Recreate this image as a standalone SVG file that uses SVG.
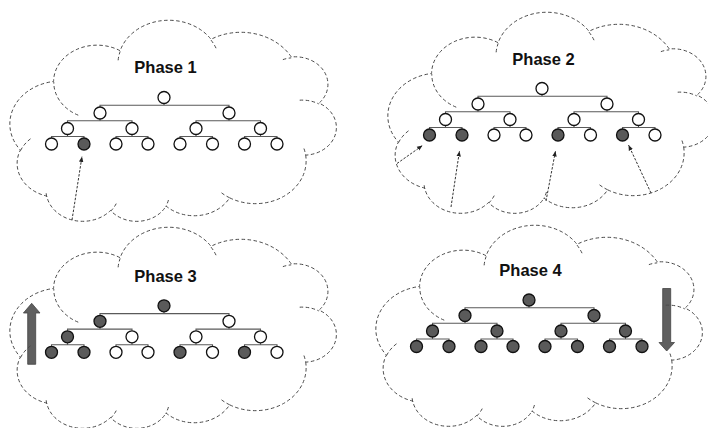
<svg xmlns="http://www.w3.org/2000/svg" xmlns:xlink="http://www.w3.org/1999/xlink" width="708" height="428" viewBox="0 0 708 428">
<style>
.cl{fill:none;stroke:#4a4a4a;stroke-width:1;stroke-dasharray:3.5 2.5}
.t{font-family:"Liberation Sans",Arial,sans-serif;font-weight:bold;font-size:16.5px;fill:#111;text-anchor:middle}
.w{fill:#fff;stroke:#111;stroke-width:1.3}
.f{fill:#5a5a5a;stroke:#111;stroke-width:1.3}
.br{fill:none;stroke:#5a5a5a;stroke-width:1.1}
.da{fill:none;stroke:#333;stroke-width:1;stroke-dasharray:2.5 1.5}
.ba{fill:#5f5f5f;stroke:#444;stroke-width:0.8}
</style>
<defs>
<marker id="ah" markerWidth="6" markerHeight="6" refX="5.5" refY="3" orient="auto" markerUnits="userSpaceOnUse"><path d="M0,0.8 L5.5,3 L0,5.2 Z" fill="#222"/></marker>
<g id="cloud">
<path d="M305.66,155.14A50.8,42.76 0 0 1 229.63,197.79A40.12,33.81 0 0 1 166.05,206.03A32.84,27.66 0 0 1 110.55,210.46A36.54,30.69 0 0 1 46.71,196.06A40.12,33.84 0 0 1 20.38,150.07A50.97,42.9 0 0 1 53.59,81.48A43.52,36.6 0 0 1 120.15,50.72A50.8,42.88 0 0 1 211,39.3A58.08,49.05 0 0 1 291.32,56.97A32.8,27.54 0 0 1 319.1,103.13A32.69,27.66 0 0 1 305.66,155.14Z"/>
<path d="M299.69,100.2A32.69,27.66 0 0 1 318.76,103.91M282.88,59.62A32.8,27.54 0 0 1 291.22,57.85M211.03,40.12A50.8,42.88 0 0 1 216.07,48.24M118.13,60.31A50.8,42.88 0 0 1 120.14,51.43M78.24,115.2A43.52,36.6 0 0 1 53.78,82M20.55,150.56A40.12,33.84 0 0 1 31.45,138.11M46.68,196.75A36.54,30.69 0 0 1 46.11,190.87M116.24,203.61A36.54,30.69 0 0 1 110.66,211.11M168.43,200.04A32.84,27.66 0 0 1 165.73,206.5M229.68,197.84A50.8,42.76 0 0 1 219.9,191.57M303.95,148.54A50.8,42.76 0 0 1 305.66,155.14"/>
</g>
<path id="bars" d="M164,103.5V105.3M100,107V105.3H229V107M100,119V120.8M67.5,122.5V120.8H132V122.5M229,119V120.8M196,122.5V120.8H260.5V122.5M67.5,134.5V136.5M51.5,138V136.5H84V138M132,134.5V136.5M116,138V136.5H148V138M196,134.5V136.5M180,138V136.5H212.5V138M260.5,134.5V136.5M244.5,138V136.5H277V138"/>
</defs>

<g id="arrows">
<polygon class="ba" points="31.7,303.3 40,313 35.7,313 35.7,364.3 27.7,364.3 27.7,313 23.4,313"/>
<polygon class="ba" points="662.7,288.5 670.7,288.5 670.7,342.5 674.5,342.5 666.7,351 659,342.5 662.7,342.5"/>
</g>

<g id="clouds">
<g id="cloud1"><use xlink:href="#cloud" href="#cloud" class="cl"/></g>
<g id="cloud2"><use xlink:href="#cloud" href="#cloud" class="cl" transform="translate(378,-8)"/></g>
<g id="cloud3"><use xlink:href="#cloud" href="#cloud" class="cl" transform="translate(0,207)"/></g>
<g id="cloud4"><use xlink:href="#cloud" href="#cloud" class="cl" transform="translate(366,205)"/></g>
</g>

<g id="connectors">
<use xlink:href="#bars" href="#bars" class="br"/>
<use xlink:href="#bars" href="#bars" class="br" transform="translate(378,-9)"/>
<use xlink:href="#bars" href="#bars" class="br" transform="translate(0,208.3)"/>
<use xlink:href="#bars" href="#bars" class="br" transform="translate(365,202.5)"/>
<path class="da" d="M72,220L82,156.5" marker-end="url(#ah)"/>
<path class="da" d="M397,163.5L422.5,145.5" marker-end="url(#ah)"/>
<path class="da" d="M451,207L459.5,151" marker-end="url(#ah)"/>
<path class="da" d="M546,201L555.5,151" marker-end="url(#ah)"/>
<path class="da" d="M651,193L628.5,145" marker-end="url(#ah)"/>
</g>

<g id="titles">
<text class="t" x="165.5" y="73">Phase 1</text>
<text class="t" x="543.5" y="65">Phase 2</text>
<text class="t" x="165.5" y="281.5">Phase 3</text>
<text class="t" x="530.5" y="275.5">Phase 4</text>
</g>

<g id="phase1">
<g id="p1n0"><circle class="w" cx="164" cy="97.5" r="6"/></g>
<g id="p1n1"><circle class="w" cx="100" cy="113" r="6"/></g>
<g id="p1n2"><circle class="w" cx="229" cy="113" r="6"/></g>
<g id="p1n3"><circle class="w" cx="67.5" cy="128.5" r="6"/></g>
<g id="p1n4"><circle class="w" cx="132" cy="128.5" r="6"/></g>
<g id="p1n5"><circle class="w" cx="196" cy="128.5" r="6"/></g>
<g id="p1n6"><circle class="w" cx="260.5" cy="128.5" r="6"/></g>
<g id="p1n7"><circle class="w" cx="51.5" cy="144" r="6"/></g>
<g id="p1n8"><circle class="f" cx="84" cy="144" r="6"/></g>
<g id="p1n9"><circle class="w" cx="116" cy="144" r="6"/></g>
<g id="p1n10"><circle class="w" cx="148" cy="144" r="6"/></g>
<g id="p1n11"><circle class="w" cx="180" cy="144" r="6"/></g>
<g id="p1n12"><circle class="w" cx="212.5" cy="144" r="6"/></g>
<g id="p1n13"><circle class="w" cx="244.5" cy="144" r="6"/></g>
<g id="p1n14"><circle class="w" cx="277" cy="144" r="6"/></g>
</g>

<g id="phase2" transform="translate(378,-9)">
<g id="p2n0"><circle class="w" cx="164" cy="97.5" r="6"/></g>
<g id="p2n1"><circle class="w" cx="100" cy="113" r="6"/></g>
<g id="p2n2"><circle class="w" cx="229" cy="113" r="6"/></g>
<g id="p2n3"><circle class="w" cx="67.5" cy="128.5" r="6"/></g>
<g id="p2n4"><circle class="w" cx="132" cy="128.5" r="6"/></g>
<g id="p2n5"><circle class="w" cx="196" cy="128.5" r="6"/></g>
<g id="p2n6"><circle class="w" cx="260.5" cy="128.5" r="6"/></g>
<g id="p2n7"><circle class="f" cx="51.5" cy="144" r="6"/></g>
<g id="p2n8"><circle class="f" cx="84" cy="144" r="6"/></g>
<g id="p2n9"><circle class="w" cx="116" cy="144" r="6"/></g>
<g id="p2n10"><circle class="w" cx="148" cy="144" r="6"/></g>
<g id="p2n11"><circle class="f" cx="180" cy="144" r="6"/></g>
<g id="p2n12"><circle class="w" cx="212.5" cy="144" r="6"/></g>
<g id="p2n13"><circle class="f" cx="244.5" cy="144" r="6"/></g>
<g id="p2n14"><circle class="w" cx="277" cy="144" r="6"/></g>
</g>

<g id="phase3" transform="translate(0,208.3)">
<g id="p3n0"><circle class="f" cx="164" cy="97.5" r="6"/></g>
<g id="p3n1"><circle class="f" cx="100" cy="113" r="6"/></g>
<g id="p3n2"><circle class="w" cx="229" cy="113" r="6"/></g>
<g id="p3n3"><circle class="f" cx="67.5" cy="128.5" r="6"/></g>
<g id="p3n4"><circle class="w" cx="132" cy="128.5" r="6"/></g>
<g id="p3n5"><circle class="w" cx="196" cy="128.5" r="6"/></g>
<g id="p3n6"><circle class="w" cx="260.5" cy="128.5" r="6"/></g>
<g id="p3n7"><circle class="f" cx="51.5" cy="144" r="6"/></g>
<g id="p3n8"><circle class="f" cx="84" cy="144" r="6"/></g>
<g id="p3n9"><circle class="w" cx="116" cy="144" r="6"/></g>
<g id="p3n10"><circle class="w" cx="148" cy="144" r="6"/></g>
<g id="p3n11"><circle class="f" cx="180" cy="144" r="6"/></g>
<g id="p3n12"><circle class="w" cx="212.5" cy="144" r="6"/></g>
<g id="p3n13"><circle class="f" cx="244.5" cy="144" r="6"/></g>
<g id="p3n14"><circle class="w" cx="277" cy="144" r="6"/></g>
</g>

<g id="phase4" transform="translate(365,202.5)">
<g id="p4n0"><circle class="f" cx="164" cy="97.5" r="6"/></g>
<g id="p4n1"><circle class="f" cx="100" cy="113" r="6"/></g>
<g id="p4n2"><circle class="f" cx="229" cy="113" r="6"/></g>
<g id="p4n3"><circle class="f" cx="67.5" cy="128.5" r="6"/></g>
<g id="p4n4"><circle class="f" cx="132" cy="128.5" r="6"/></g>
<g id="p4n5"><circle class="f" cx="196" cy="128.5" r="6"/></g>
<g id="p4n6"><circle class="f" cx="260.5" cy="128.5" r="6"/></g>
<g id="p4n7"><circle class="f" cx="51.5" cy="144" r="6"/></g>
<g id="p4n8"><circle class="f" cx="84" cy="144" r="6"/></g>
<g id="p4n9"><circle class="f" cx="116" cy="144" r="6"/></g>
<g id="p4n10"><circle class="f" cx="148" cy="144" r="6"/></g>
<g id="p4n11"><circle class="f" cx="180" cy="144" r="6"/></g>
<g id="p4n12"><circle class="f" cx="212.5" cy="144" r="6"/></g>
<g id="p4n13"><circle class="f" cx="244.5" cy="144" r="6"/></g>
<g id="p4n14"><circle class="f" cx="277" cy="144" r="6"/></g>
</g>
</svg>
